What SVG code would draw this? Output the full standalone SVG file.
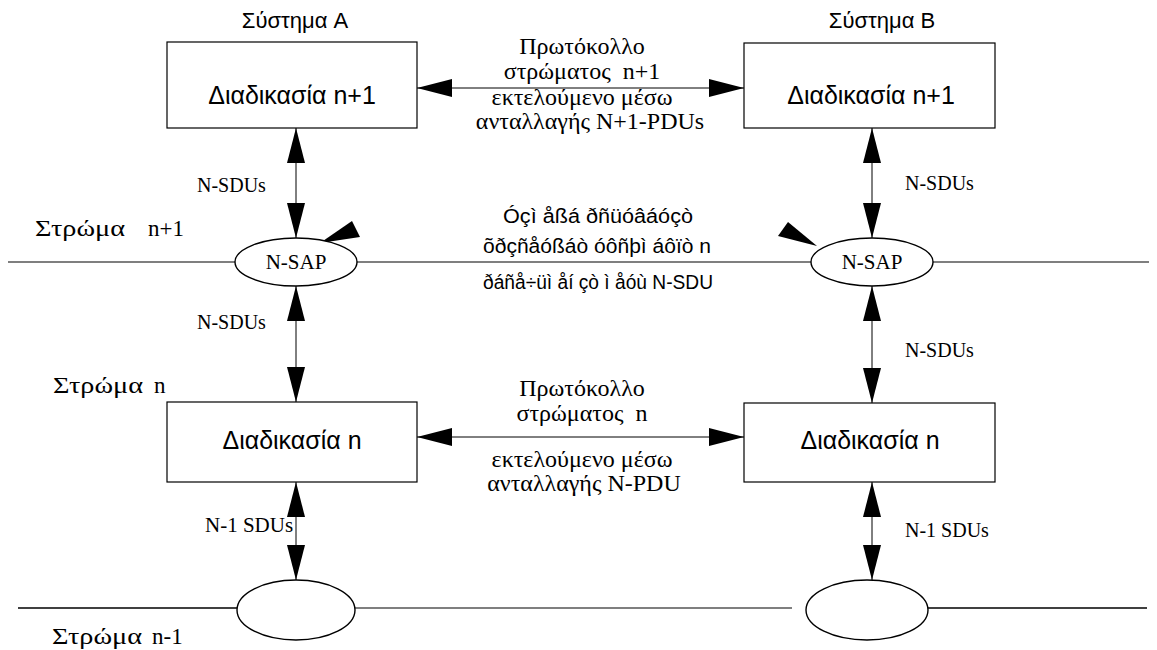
<svg xmlns="http://www.w3.org/2000/svg" width="1157" height="650" viewBox="0 0 1157 650">
  <style>
    .box { fill: #fff; stroke: #000; stroke-width: 1.2; }
    .sap { fill: #fff; stroke: #000; stroke-width: 1.4; }
    .wire { stroke: #000; stroke-width: 1.2; fill: none; }
    .link { stroke: #000; stroke-width: 1; fill: none; marker-start: url(#head); marker-end: url(#head); }
    .title { font-family: "Liberation Sans", Arial, sans-serif; font-size: 22px; fill: #000; }
    .proc { font-family: "Liberation Sans", Arial, sans-serif; font-size: 25px; fill: #000; }
    .note { font-family: "Liberation Sans", Arial, sans-serif; font-size: 20px; fill: #000; }
    .proto { font-family: "Liberation Serif", "Times New Roman", serif; font-size: 24px; fill: #000; }
    .layer { font-family: "Liberation Serif", "Times New Roman", serif; font-size: 23px; fill: #000; }
    .lbl { font-family: "Liberation Serif", "Times New Roman", serif; font-size: 20px; fill: #000; }
    .mid { text-anchor: middle; }
  </style>
  <defs>
    <marker id="head" viewBox="0 0 35 18" refX="35" refY="9" markerWidth="35" markerHeight="18" markerUnits="userSpaceOnUse" orient="auto-start-reverse">
      <path d="M0,0 L35,9 L0,18 Z" fill="#000"/>
    </marker>
  </defs>

  <!-- layer boundary lines and their names -->
  <g id="layers">
    <line class="wire" x1="8" y1="262" x2="235" y2="262"/>
    <line class="wire" x1="357" y1="262" x2="811" y2="262"/>
    <line class="wire" x1="933" y1="262" x2="1149" y2="262"/>
    <line class="wire" x1="18" y1="608" x2="237" y2="608" style="stroke-width:1.6"/>
    <line class="wire" x1="355" y1="608" x2="792" y2="608"/>
    <line class="wire" x1="928" y1="608" x2="1147" y2="608" style="stroke-width:1.4"/>
    <text class="layer" x="35" y="236" textLength="90" lengthAdjust="spacingAndGlyphs">Στρώμα</text>
    <text class="layer" x="148" y="236">n+1</text>
    <text class="layer" x="53" y="393" textLength="90" lengthAdjust="spacingAndGlyphs">Στρώμα</text>
    <text class="layer" x="154" y="393">n</text>
    <text class="layer" x="52" y="644" textLength="90" lengthAdjust="spacingAndGlyphs">Στρώμα</text>
    <text class="layer" x="152" y="644">n-1</text>
  </g>

  <!-- system titles -->
  <text class="title mid" x="295" y="28">Σύστημα A</text>
  <text class="title mid" x="882" y="28">Σύστημα B</text>

  <!-- connectors -->
  <g id="connectors">
    <line class="link" x1="417" y1="88" x2="744" y2="88"/>
    <line class="link" x1="417" y1="437" x2="744" y2="437"/>
    <line class="link" x1="296" y1="128" x2="296" y2="238"/>
    <line class="link" x1="872" y1="128" x2="872" y2="238"/>
    <line class="link" x1="296" y1="286" x2="296" y2="402"/>
    <line class="link" x1="872" y1="286" x2="872" y2="403"/>
    <line class="link" x1="296" y1="482" x2="296" y2="580"/>
    <line class="link" x1="872" y1="482" x2="872" y2="580"/>
    <polygon points="320,243 352,221 360,237" fill="#000"/>
    <polygon points="817,246 778,236 788,222" fill="#000"/>
  </g>

  <!-- connector labels -->
  <g id="labels">
    <text class="proto mid" x="582" y="54">Πρωτόκολλο</text>
    <text class="proto mid" x="582" y="79" xml:space="preserve">στρώματος  n+1</text>
    <text class="proto mid" x="582" y="105">εκτελούμενο μέσω</text>
    <text class="proto mid" x="590" y="129">ανταλλαγής N+1-PDUs</text>

    <text class="proto mid" x="582" y="396">Πρωτόκολλο</text>
    <text class="proto mid" x="582" y="421" xml:space="preserve">στρώματος  n</text>
    <text class="proto mid" x="582" y="467">εκτελούμενο μέσω</text>
    <text class="proto mid" x="584" y="491">ανταλλαγής N-PDU</text>

    <text class="note" x="503" y="223" textLength="190" lengthAdjust="spacingAndGlyphs">Óçì åßá ðñüóâáóçò</text>
    <text class="note" x="483" y="253" textLength="228" lengthAdjust="spacingAndGlyphs">õðçñåóßáò óôñþì áôïò n</text>
    <text class="note" x="483" y="289" textLength="230" lengthAdjust="spacingAndGlyphs">ðáñå÷üì åí çò ì åóù N-SDU</text>

    <text class="lbl" x="197" y="192">N-SDUs</text>
    <text class="lbl" x="905" y="190">N-SDUs</text>
    <text class="lbl" x="197" y="329">N-SDUs</text>
    <text class="lbl" x="905" y="357">N-SDUs</text>
    <text class="lbl" x="205" y="532" style="font-size:21px">N-1 SDUs</text>
    <text class="lbl" x="905" y="537">N-1 SDUs</text>
  </g>

  <!-- entities -->
  <g id="proc-a-n1">
    <rect class="box" x="167" y="42" width="250" height="86"/>
    <text class="proc mid" x="292" y="104">Διαδικασία n+1</text>
  </g>
  <g id="proc-b-n1">
    <rect class="box" x="744" y="43" width="251" height="85"/>
    <text class="proc mid" x="871" y="104">Διαδικασία n+1</text>
  </g>
  <g id="sap-a">
    <ellipse class="sap" cx="296" cy="262" rx="61" ry="24"/>
    <text class="lbl mid" x="296" y="269" style="font-size:21px">N-SAP</text>
  </g>
  <g id="sap-b">
    <ellipse class="sap" cx="872" cy="262" rx="61" ry="24"/>
    <text class="lbl mid" x="872" y="269" style="font-size:21px">N-SAP</text>
  </g>
  <g id="proc-a-n">
    <rect class="box" x="167" y="402" width="250" height="80"/>
    <text class="proc mid" x="292" y="449">Διαδικασία n</text>
  </g>
  <g id="proc-b-n">
    <rect class="box" x="744" y="403" width="251" height="79"/>
    <text class="proc mid" x="870" y="449">Διαδικασία n</text>
  </g>
  <g id="sap-a-lower">
    <ellipse class="sap" cx="296" cy="610" rx="59" ry="30"/>
  </g>
  <g id="sap-b-lower">
    <ellipse class="sap" cx="867" cy="610" rx="61" ry="30"/>
  </g>
</svg>
